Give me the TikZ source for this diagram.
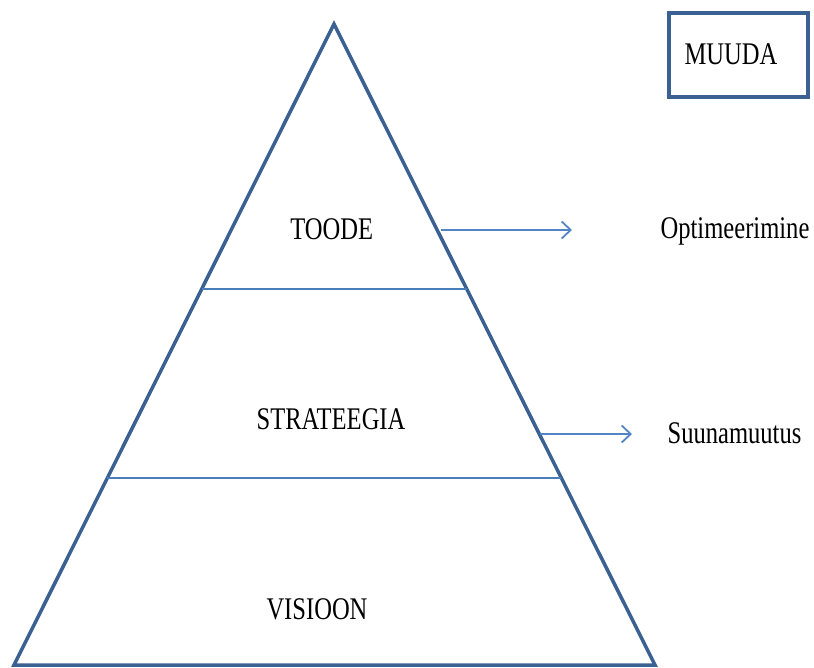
\documentclass[tikz,border=0pt]{standalone}
\usepackage{fontspec}
\setmainfont{Liberation Serif}
\usetikzlibrary{calc,arrows.meta}
\definecolor{frameblue}{HTML}{3A6192}
\definecolor{lineblue}{HTML}{4A7EBB}
\definecolor{arrowblue}{HTML}{5285C4}
\newcommand{\lbl}[1]{\scalebox{0.78}[1]{\fontsize{31.5}{36}\selectfont #1}}
\tikzset{
  frame/.style={draw=frameblue, line width=3.5pt, line join=miter},
  divider/.style={draw=lineblue, line width=2pt},
  pointer/.style={draw=arrowblue, line width=1.8pt, -{Straight Barb[length=9pt,width=17pt,line width=1.8pt]}},
  txt/.style={anchor=base, inner sep=0pt, text=black},
  tagbox/.style={frame, line width=4pt, minimum width=139.6pt, minimum height=84.5pt, inner sep=0pt}
}
\begin{document}
\begin{tikzpicture}[x=1pt,y=-1pt]
  \useasboundingbox (0,0) rectangle (814,668);
  % pyramid outline
  \coordinate (apex) at (334,24);
  \coordinate (bl) at (14,665);
  \coordinate (br) at (655,665);
  \draw[frame] (apex) -- (bl) -- (br) -- cycle;
  % level dividers
  \coordinate (d1l) at ($(apex)!0.4134!(bl)$);
  \coordinate (d1r) at ($(apex)!0.4134!(br)$);
  \coordinate (d2l) at ($(apex)!0.708!(bl)$);
  \coordinate (d2r) at ($(apex)!0.708!(br)$);
  \draw[divider] (d1l) -- (d1r);
  \draw[divider] (d2l) -- (d2r);
  % level names
  \node[txt] (toode) at (331.7,239.3) {\lbl{TOODE}};
  \node[txt] (strat) at (331,429) {\lbl{STRATEEGIA}};
  \node[txt] (vis) at (317,619) {\lbl{VISIOON}};
  % outcomes
  \node[txt] (opt) at (735,239) {\lbl{Optimeerimine}};
  \node[txt] (suun) at (734.5,443.3) {\lbl{Suunamuutus}};
  \coordinate (a1s) at (441,230);
  \coordinate (a1e) at (572,230);
  \coordinate (a2s) at (540,434);
  \coordinate (a2e) at (632,434);
  \draw[pointer] (a1s) -- (a1e);
  \draw[pointer] (a2s) -- (a2e);
  % change box
  \node[tagbox] (box) at (738.5,55) {};
  \node[txt] (muuda) at (731,65) {\lbl{MUUDA}};
\end{tikzpicture}
\end{document}
